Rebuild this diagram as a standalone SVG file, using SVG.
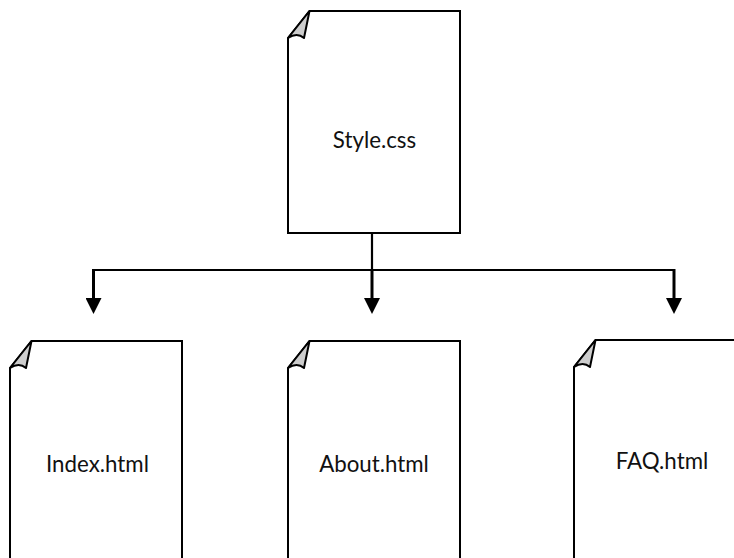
<svg xmlns="http://www.w3.org/2000/svg" width="734" height="558" viewBox="0 0 734 558">
<style>
.page{fill:#fff;stroke:#000;stroke-width:2}
.fold{fill:#cdcdcd;stroke:#000;stroke-width:2;stroke-linejoin:round}
.lbl{font-family:"Lato","Carlito","Open Sans",sans-serif;font-size:22.3px;fill:#111;text-anchor:middle}
.wire{fill:none;stroke:#000;stroke-width:2.2}
.stem{fill:none;stroke:#000;stroke-width:3}
</style>
<defs>
<marker id="arrow" markerUnits="userSpaceOnUse" markerWidth="16" markerHeight="16" refX="0" refY="8" orient="auto"><path d="M0 0L16 8L0 16Z" fill="#000"/></marker>
<g id="sheet">
<path class="page" d="M21.5 0H172V220H0V27Z"/>
<path class="fold" d="M21.5 0L0 27Q9 21 16 27Z"/>
</g>
</defs>
<rect width="734" height="558" fill="#fff"/>
<g id="connectors">
<path class="wire" d="M372 233V270"/>
<path class="wire" d="M93.500 270H674"/>
<path class="stem" d="M372 270V298" marker-end="url(#arrow)"/>
<path class="stem" d="M93.500 269V298" marker-end="url(#arrow)"/>
<path class="stem" d="M674 269V298" marker-end="url(#arrow)"/>
</g>
<g id="style-css"><path class="page" d="M309.500 11H460V233H288V38Z"/><path class="fold" d="M309.500 11L288 38Q297 32 304 38Z"/><text class="lbl" x="374.500" y="147.500">Style.css</text></g>
<g id="index-html"><use href="#sheet" x="10" y="341"/><text class="lbl" x="97.500" y="472">Index.html</text></g>
<g id="about-html"><use href="#sheet" x="288" y="341"/><text class="lbl" x="374" y="472">About.html</text></g>
<g id="faq-html"><use href="#sheet" x="574" y="340"/><text class="lbl" x="662" y="469">FAQ.html</text></g>
</svg>
